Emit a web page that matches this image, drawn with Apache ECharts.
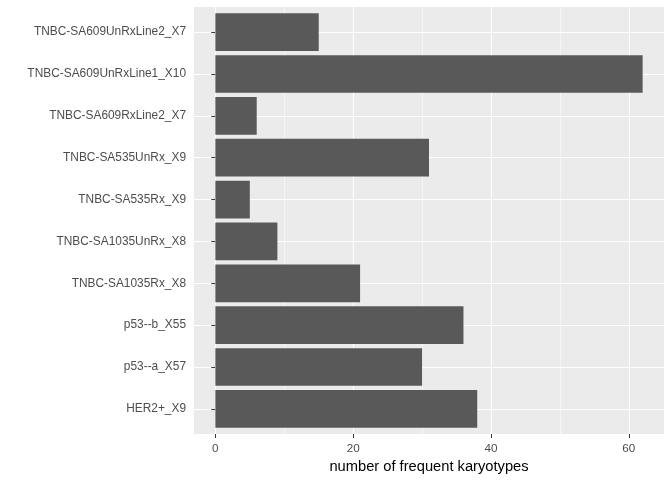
<!DOCTYPE html>
<html lang="en">
<head>
    <meta charset="UTF-8">
    <title>frequent karyotypes</title>
    <script src="https://cdn.jsdelivr.net/npm/echarts@6/dist/echarts.min.js"></script>
</head>
<body style="margin: 0; background: #fff">
<div id="container" style="width: 672px; height: 480px"></div>
<script>
    // bottom to top, like ggplot draws them after coord_flip
    var samples = [
        "HER2+_X9",
        "p53--a_X57",
        "p53--b_X55",
        "TNBC-SA1035Rx_X8",
        "TNBC-SA1035UnRx_X8",
        "TNBC-SA535Rx_X9",
        "TNBC-SA535UnRx_X9",
        "TNBC-SA609RxLine2_X7",
        "TNBC-SA609UnRxLine1_X10",
        "TNBC-SA609UnRxLine2_X7"
    ];
    var karyotypes = [38, 30, 36, 21, 9, 5, 31, 6, 62, 15];
    var majorTicks = [0, 20, 40, 60];
    var minorTicks = [10, 30, 50];

    var xMin = -3.1, xMax = 65.1;
    var labelFont = "Liberation Sans, Arial, sans-serif";

    var gridLines = [];
    majorTicks.forEach(function (v) {
        gridLines.push({ xAxis: v, lineStyle: { width: 1.1 } });
    });
    minorTicks.forEach(function (v) {
        gridLines.push({ xAxis: v, lineStyle: { width: 0.55 } });
    });

    var myChart = echarts.init(document.getElementById("container"), null, { renderer: "canvas" });

    var option = {
        animation: false,
        grid: [
            // panel
            { left: 194, top: 7, width: 470, height: 427, show: true, backgroundColor: "#EBEBEB", borderWidth: 0 },
            // bars (0.6 band padding like ggplot instead of 0.5)
            { left: 194, top: 11.2, width: 470, height: 418.6 }
        ],
        xAxis: [
            {
                gridIndex: 0, type: "value", min: xMin, max: xMax,
                axisLine: { show: false },
                splitLine: { show: false },
                axisTick: { show: true, customValues: majorTicks, length: 4, lineStyle: { color: "#333333", width: 1 } },
                axisLabel: { customValues: majorTicks, color: "#4D4D4D", fontSize: 11.7, fontFamily: labelFont, margin: 8.5 },
                name: "number of frequent karyotypes",
                nameLocation: "middle",
                nameGap: 24,
                nameTextStyle: { color: "#000", fontSize: 14.7, fontFamily: labelFont }
            },
            { gridIndex: 1, type: "value", min: xMin, max: xMax, show: false }
        ],
        yAxis: [
            { gridIndex: 0, type: "value", min: 0, max: 1, show: false },
            {
                gridIndex: 1, type: "category", data: samples,
                axisLine: { show: false },
                axisTick: { show: true, alignWithLabel: true, length: 4, lineStyle: { color: "#333333", width: 1 } },
                axisLabel: { color: "#4D4D4D", fontSize: 11.9, fontFamily: labelFont, margin: 8, padding: [3, 0, 0, 0] },
                splitLine: { show: true, alignWithLabel: true, lineStyle: { color: "#FFFFFF", width: 1.1 } }
            }
        ],
        series: [
            {
                type: "line", xAxisIndex: 0, yAxisIndex: 0, data: [], z: 1,
                markLine: {
                    silent: true, symbol: "none", animation: false, z: 1,
                    label: { show: false },
                    lineStyle: { color: "#FFFFFF", type: "solid" },
                    data: gridLines
                }
            },
            {
                type: "bar", xAxisIndex: 1, yAxisIndex: 1, data: karyotypes,
                barCategoryGap: "10%", z: 3,
                itemStyle: { color: "#595959" }
            }
        ]
    };
    myChart.setOption(option);
</script>
</body>
</html>
